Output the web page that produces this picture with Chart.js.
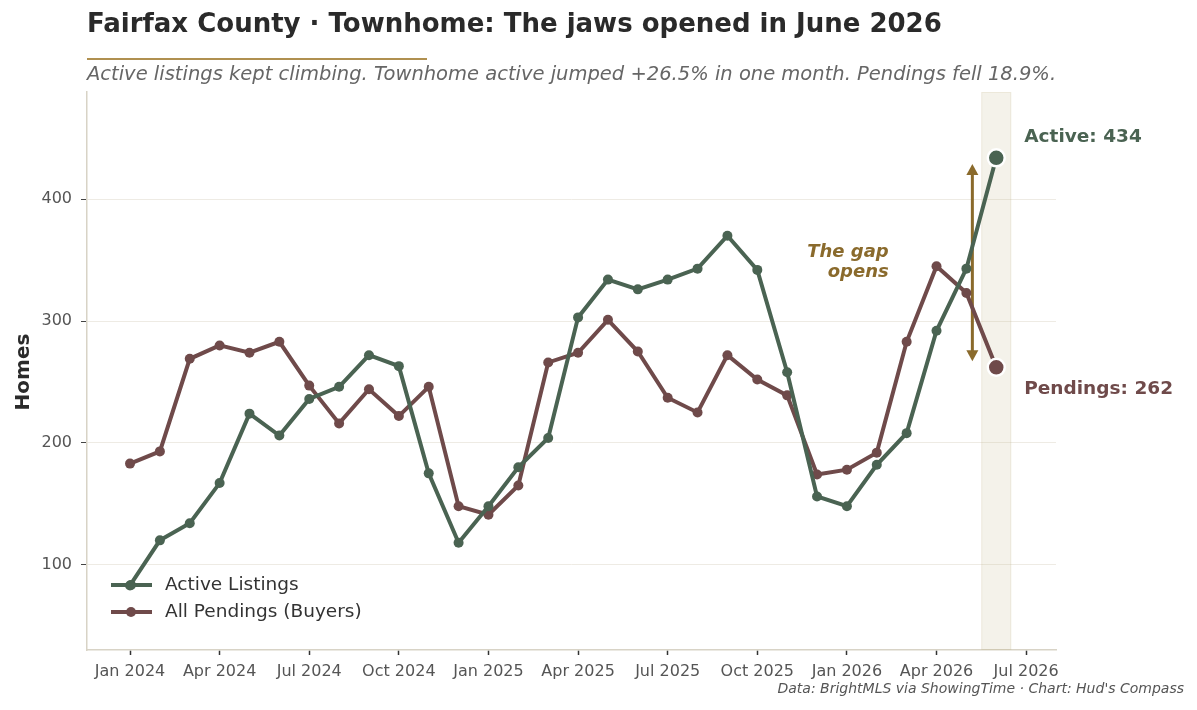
<!DOCTYPE html>
<html>
<head>
<meta charset="utf-8">
<script src="https://cdn.jsdelivr.net/npm/chart.js@4/dist/chart.umd.min.js"></script>
<style>
html,body{margin:0;padding:0;background:#fff;}
canvas{display:block;}
</style>
</head>
<body>
<canvas id="c" width="1197" height="710"></canvas>
<script>
// ---- data ----
const months = ["Jan 2024","Feb 2024","Mar 2024","Apr 2024","May 2024","Jun 2024","Jul 2024","Aug 2024","Sep 2024","Oct 2024","Nov 2024","Dec 2024",
  "Jan 2025","Feb 2025","Mar 2025","Apr 2025","May 2025","Jun 2025","Jul 2025","Aug 2025","Sep 2025","Oct 2025","Nov 2025","Dec 2025",
  "Jan 2026","Feb 2026","Mar 2026","Apr 2026","May 2026","Jun 2026"];
const activeListings = [83,120,134,167,224,206,236,246,272,263,175,118,148,180,204,303,334,326,334,343,370,342,258,156,148,182,208,292,343,434];
const allPendings   = [183,193,269,280,274,283,247,216,244,222,246,148,141,165,266,274,301,275,237,225,272,252,239,174,178,192,283,345,323,262];
const xTickIndex  = [0,3,6,9,12,15,18,21,24,27,30];
const xTickLabels = ["Jan 2024","Apr 2024","Jul 2024","Oct 2024","Jan 2025","Apr 2025","Jul 2025","Oct 2025","Jan 2026","Apr 2026","Jul 2026"];
const yTicks = [100,200,300,400];
const gapArrow = {x: 28.2, from: 267, to: 429};
const gapText = {x: 25.4, y: 348, lines: ["The gap","opens"]};
const highlightIndex = 29;

const GREEN = '#4a6352', MAUVE = '#6f4a4a', GOLD = '#8a6a2c';
const FONT = "'DejaVu Sans', 'Liberation Sans', sans-serif";
const last = activeListings.length - 1;

const pts = arr => arr.map((v,i)=>({x:i,y:v}));

const decor = {
  id:'decor',
  beforeDatasetsDraw(chart){
    const {ctx, scales:{x,y}, chartArea:a} = chart;
    ctx.save();
    const x0 = x.getPixelForValue(highlightIndex-0.5), x1 = x.getPixelForValue(highlightIndex+0.5);
    ctx.fillStyle = 'rgba(200,190,150,0.20)';
    ctx.fillRect(x0, a.top, x1-x0, a.bottom-a.top);
    ctx.strokeStyle = 'rgba(200,190,150,0.20)';
    ctx.lineWidth = 1;
    ctx.strokeRect(x0+0.5, a.top+0.5, x1-x0-1, a.bottom-a.top-1);
    // arrow
    const ax = x.getPixelForValue(gapArrow.x);
    const ay0 = y.getPixelForValue(gapArrow.to), ay1 = y.getPixelForValue(gapArrow.from);
    ctx.strokeStyle = GOLD; ctx.fillStyle = GOLD; ctx.lineWidth = 3;
    ctx.beginPath(); ctx.moveTo(ax, ay0+6); ctx.lineTo(ax, ay1-6); ctx.stroke();
    ctx.beginPath(); ctx.moveTo(ax, ay0); ctx.lineTo(ax-6, ay0+11); ctx.lineTo(ax+6, ay0+11); ctx.closePath(); ctx.fill();
    ctx.beginPath(); ctx.moveTo(ax, ay1); ctx.lineTo(ax-6, ay1-11); ctx.lineTo(ax+6, ay1-11); ctx.closePath(); ctx.fill();
    ctx.restore();
  },
  afterDatasetsDraw(chart){
    const {ctx, scales:{x,y}} = chart;
    ctx.save();
    // gap text
    ctx.font = `italic bold 18px ${FONT}`;
    ctx.fillStyle = GOLD; ctx.textAlign = 'right'; ctx.textBaseline = 'middle';
    const gx = x.getPixelForValue(gapText.x), gy = y.getPixelForValue(gapText.y);
    ctx.fillText(gapText.lines[0], gx, gy-10);
    ctx.fillText(gapText.lines[1], gx, gy+10);
    // end labels
    ctx.textAlign = 'left';
    ctx.font = `bold 18.5px ${FONT}`;
    const lx = x.getPixelForValue(last) + 28;
    ctx.fillStyle = GREEN;
    ctx.fillText('Active: ' + activeListings[last], lx, y.getPixelForValue(activeListings[last]) - 21);
    ctx.fillStyle = MAUVE;
    ctx.fillText('Pendings: ' + allPendings[last], lx, y.getPixelForValue(allPendings[last]) + 22);
    // legend
    const leg = [[GREEN,'Active Listings',585],[MAUVE,'All Pendings (Buyers)',612]];
    leg.forEach(([c,t,ly])=>{
      ctx.strokeStyle = c; ctx.lineWidth = 4; ctx.lineCap='butt';
      ctx.beginPath(); ctx.moveTo(111, ly); ctx.lineTo(152, ly); ctx.stroke();
      ctx.fillStyle = c; ctx.beginPath(); ctx.arc(131, ly, 5, 0, Math.PI*2); ctx.fill();
      ctx.fillStyle = '#333'; ctx.font = `18.5px ${FONT}`; ctx.textAlign='left'; ctx.textBaseline='middle';
      ctx.fillText(t, 165, ly);
    });
    ctx.restore();
  },
  afterDraw(chart){
    const {ctx} = chart;
    ctx.save();
    ctx.textBaseline = 'middle'; ctx.textAlign = 'left';
    ctx.fillStyle = '#2a2a2a';
    ctx.font = `bold 26px ${FONT}`;
    ctx.fillText('Fairfax County · Townhome: The jaws opened in June 2026', 87, 25);
    ctx.strokeStyle = '#b09050'; ctx.lineWidth = 2;
    ctx.beginPath(); ctx.moveTo(87, 59); ctx.lineTo(427, 59); ctx.stroke();
    ctx.fillStyle = '#666';
    ctx.font = `italic 19.5px ${FONT}`;
    ctx.fillText('Active listings kept climbing. Townhome active jumped +26.5% in one month. Pendings fell 18.9%.', 87, 75);
    ctx.textAlign = 'right';
    ctx.fillStyle = '#555';
    ctx.font = `italic 14px ${FONT}`;
    ctx.fillText("Data: BrightMLS via ShowingTime · Chart: Hud's Compass", 1184, 689);
    // y title
    ctx.save();
    ctx.translate(24, 372); ctx.rotate(-Math.PI/2);
    ctx.textAlign = 'center'; ctx.fillStyle = '#2a2a2a';
    ctx.font = `bold 20px ${FONT}`;
    ctx.fillText('Homes', 0, 0);
    ctx.restore();
    ctx.restore();
  }
};

const mkDs = (label, data, color, z) => ({
  label, data: pts(data), borderColor: color, backgroundColor: color,
  borderWidth: 4, order: z,
  pointRadius: c => c.dataIndex === last ? 8.5 : 5,
  pointBorderWidth: c => c.dataIndex === last ? 2.5 : 0,
  pointBorderColor: c => c.dataIndex === last ? '#fff' : color,
  pointHoverRadius: 0, tension: 0
});

new Chart(document.getElementById('c'), {
  type: 'line',
  data: { datasets: [
    mkDs('Active Listings', activeListings, GREEN, 1),
    mkDs('All Pendings (Buyers)', allPendings, MAUVE, 2)
  ]},
  options: {
    responsive: false, animation: false, events: [],
    layout: { padding: { top: 92, right: 141, left: 0, bottom: 0 } },
    plugins: { legend: { display: false }, tooltip: { enabled: false }, title: { display: false } },
    scales: {
      x: {
        type: 'linear', min: -1.44, max: 31.0,
        afterFit: s => { s.height = 60; },
        afterBuildTicks: s => { s.ticks = xTickIndex.map(v => ({value: v})); },
        ticks: { autoSkip: false, maxRotation: 0, padding: 7, color: '#555', font: { family: FONT, size: 16 },
          callback: (v) => { const i = xTickIndex.indexOf(v); return i >= 0 ? xTickLabels[i] : ''; } },
        grid: { display: true, drawOnChartArea: false, drawTicks: true, tickLength: 5, tickColor: '#333', tickWidth: 1.5 },
        border: { color: '#d8d3c6', width: 1.5 }
      },
      y: {
        min: 30, max: 488,
        afterFit: s => { s.width = 87; },
        afterBuildTicks: s => { s.ticks = yTicks.map(v => ({value: v})); },
        ticks: { padding: 9, color: '#555', font: { family: FONT, size: 16 } },
        grid: { color: '#eeebe4', lineWidth: 1, drawTicks: true, tickLength: 6, tickColor: '#444' },
        border: { color: '#d8d3c6', width: 1.5 }
      }
    }
  },
  plugins: [decor]
});
</script>
</body>
</html>
